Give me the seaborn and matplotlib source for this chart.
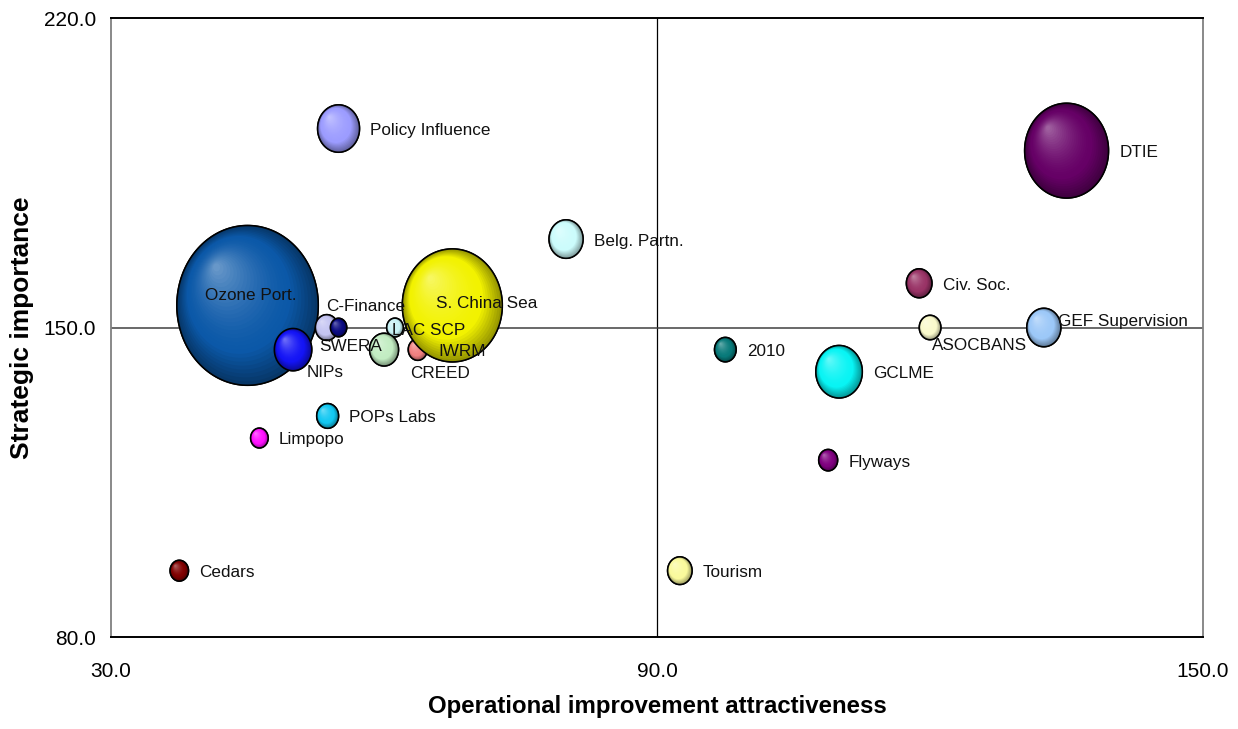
import numpy as np
import pandas as pd
import matplotlib
matplotlib.use("Agg")
import matplotlib.pyplot as plt
import seaborn as sns
from matplotlib.path import Path
from matplotlib.markers import MarkerStyle
from matplotlib.colors import to_rgb

# Portfolio of projects: attractiveness vs strategic importance, bubble = budget
projects = ["Ozone Port.", "NIPs", "C-Finance", "SWERA", "LAC SCP", "CREED", "IWRM",
            "S. China Sea", "Policy Influence", "Belg. Partn.", "POPs Labs", "Limpopo",
            "Cedars", "2010", "Tourism", "GCLME", "Flyways", "Civ. Soc.", "ASOCBANS",
            "GEF Supervision", "DTIE"]
attractiveness = [45.0, 50.0, 53.7, 55.0, 61.2, 60.0, 63.7,
                  67.5, 55.0, 80.0, 53.8, 46.3,
                  37.5, 97.5, 92.5, 110.0, 108.8, 118.8, 120.0,
                  132.5, 135.0]
importance = [155.0, 145.0, 150.0, 150.0, 150.0, 145.0, 145.0,
              155.0, 195.0, 170.0, 130.0, 125.0,
              95.0, 145.0, 95.0, 140.0, 120.0, 160.0, 150.0,
              150.0, 190.0]
budget = [50.0, 3.5, 1.3, 0.67, 0.69, 2.1, 0.9,
          25.0, 4.4, 2.9, 1.2, 0.77,
          0.85, 1.17, 1.5, 5.4, 0.9, 1.64, 1.17,
          2.9, 17.6]
colors = ["#0b58a8", "#1414f5", "#c4c4f2", "#0a0a82", "#c8f2f6", "#c2ecc2", "#f08080",
          "#f2f200", "#9c9cff", "#ccfcfc", "#12c8f2", "#ff10ff",
          "#800000", "#087a7a", "#fafa9c", "#08f4f4", "#800080", "#993366", "#fafacc",
          "#9cc8f8", "#660066"]

x_ticks = [30.0, 90.0, 150.0]
y_ticks = [80.0, 150.0, 220.0]
x_title = "Operational improvement attractiveness"
y_title = "Strategic importance"

# label placement (offset in points from bubble centre); others sit to the right
label_offsets = {
    "Ozone Port.": (-30.5, 8.3),
    "C-Finance": (-0.7, 16.6),
    "SWERA": (-13.7, -12.2),
    "NIPs": (9.6, -15.1),
    "LAC SCP": (-2.4, -0.9),
    "S. China Sea": (-11.5, 3.1),
    "CREED": (18.6, -15.6),
    "ASOCBANS": (1.4, -11.2),
    "GEF Supervision": (10.1, 5.8),
}

df = pd.DataFrame({"project": projects, "attractiveness": attractiveness,
                   "importance": importance, "budget": budget})

sns.set_theme(style="white")
plt.rcParams["font.family"] = ["Liberation Sans", "DejaVu Sans"]

fig = plt.figure(figsize=(12.38, 7.29), dpi=100)
ax = fig.add_axes([0.0897, 0.1262, 0.8821, 0.8491])

ASPECT = 1.13
theta = np.linspace(0, 2 * np.pi, 181)
ellipse = Path(np.column_stack([np.cos(theta), ASPECT * np.sin(theta)]), closed=True)
bubble = MarkerStyle(ellipse)
S_PER_UNIT = 264.8

sns.scatterplot(data=df, x="attractiveness", y="importance", hue="project",
                palette=dict(zip(projects, colors)), size="budget",
                sizes=(0, 50 * S_PER_UNIT), size_norm=(0, 50), marker=bubble,
                edgecolor="black", linewidth=1.0, legend=False, ax=ax, zorder=2)
sizes = ax.collections[0].get_sizes()

ax.set_xlim(x_ticks[0], x_ticks[-1])
ax.set_ylim(y_ticks[0], y_ticks[-1])

# shaded, glossy fill for each bubble drawn in series order
px_per_pt = fig.dpi / 72.0
inv = ax.transData.inverted()
fs = np.linspace(1.0, 0.05, 30)
for i, (xv, yv, c) in enumerate(zip(attractiveness, importance, colors)):
    s = sizes[i]
    ry_px = np.sqrt(s) / 2 * px_per_pt
    rx_px = ry_px / ASPECT
    base = np.array(to_rgb(c))
    dark = base * 0.62
    light = base + (1 - base) * 0.42
    cx, cy = ax.transData.transform((xv, yv))
    pts, cols = [], []
    for f in fs:
        t = 1 - f
        pts.append((cx - 0.46 * t * rx_px, cy + 0.5 * t * ry_px))
        if t < 0.26:
            w = t / 0.26
            cols.append(dark * (1 - w) + base * w)
        else:
            w = ((t - 0.26) / 0.74) ** 1.6
            cols.append(base * (1 - w) + light * w)
    data_pts = inv.transform(np.array(pts))
    z = 3 + i * 0.01
    ax.scatter(data_pts[:, 0], data_pts[:, 1], s=s * fs ** 2, c=cols, marker=bubble,
               linewidths=0, zorder=z)
    ax.scatter([xv], [yv], s=s, marker=bubble, facecolors="none", edgecolors="black",
               linewidths=1.15, zorder=z + 0.005)

    if projects[i] in label_offsets:
        dx, dy = label_offsets[projects[i]]
    else:
        dx, dy = rx_px / px_per_pt + 7.8, 0.0
    ax.annotate(projects[i], (xv, yv), xytext=(dx, dy - 1.4), textcoords="offset points",
                ha="left", va="center", fontsize=12.3, color="#111111", zorder=10)

# quadrant dividers
ax.axvline(90.0, color="black", lw=0.9, zorder=1)
ax.axhline(150.0, color="#404040", lw=1.1, zorder=1)

ax.set_xticks(x_ticks)
ax.set_yticks(y_ticks)
ax.set_xticklabels([f"{v:.1f}" for v in x_ticks])
ax.set_yticklabels([f"{v:.1f}" for v in y_ticks])
ax.tick_params(axis="both", which="major", direction="out", length=5, width=1.0,
               color="black", labelsize=15, labelcolor="black")
ax.tick_params(axis="x", pad=13)
ax.tick_params(axis="y", pad=6)
ax.grid(False)

for side in ["top", "bottom"]:
    ax.spines[side].set_color("black")
    ax.spines[side].set_linewidth(1.4)
for side in ["left", "right"]:
    ax.spines[side].set_color("#808080")
    ax.spines[side].set_linewidth(1.3)

ax.set_xlabel(x_title, fontsize=17.3, fontweight="bold", labelpad=10, color="black")
ax.set_ylabel(y_title, fontsize=19, fontweight="bold", labelpad=7, color="black")

fig.savefig("out.png", dpi=100)
